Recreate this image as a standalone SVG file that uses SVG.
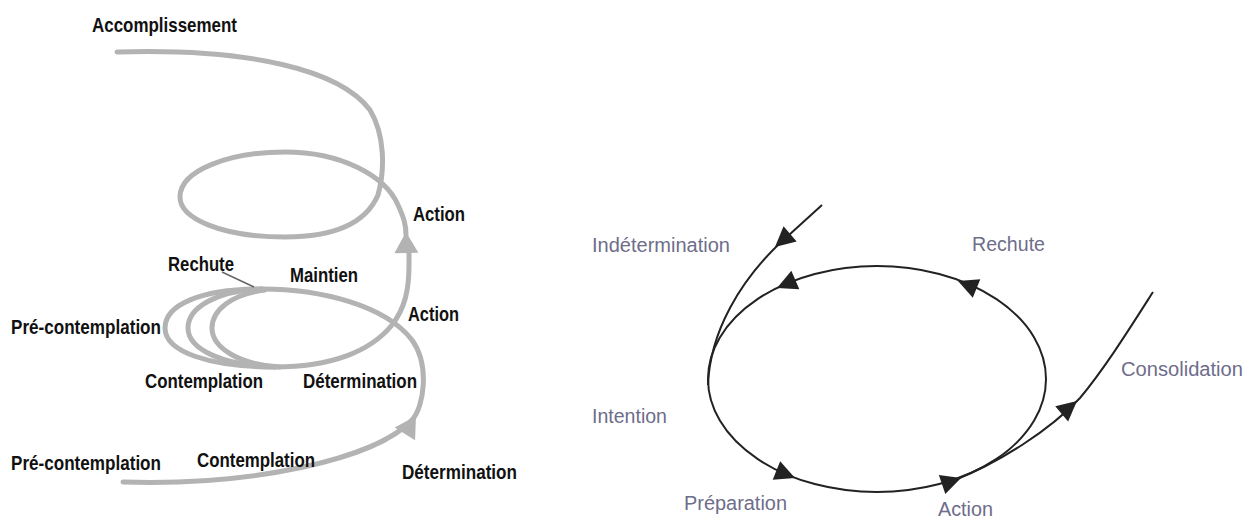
<svg xmlns="http://www.w3.org/2000/svg" xmlns:xlink="http://www.w3.org/1999/xlink" width="1253" height="521" viewBox="0 0 1253 521">
<style>
.g{fill:none;stroke:#b3b3b3;stroke-width:5;stroke-linecap:round;stroke-linejoin:round}
.k{fill:none;stroke:#222;stroke-width:2}
.lb{font-family:"Liberation Sans",Arial,sans-serif;font-weight:bold;font-size:20.5px;fill:#111}
.lr{font-family:"Liberation Sans",Arial,sans-serif;font-size:20px;fill:#6e6d8a}
</style>
<defs>
<polygon id="ga" points="0,0 -21,-12 -21,12" fill="#b3b3b3"/>
<polygon id="ba" points="0,0 -20,-10 -20,10" fill="#222"/>
</defs>
<rect width="1253" height="521" fill="#fff"/>
<g id="connectors">
<path class="g" d="M 123 482 C 250 486 375 460 412 420 C 424 407 430 365 412 340 C 385 305 320 289 262 289"/>
<path class="g" d="M 262 289 C 200 289 165 305 165 328 C 165 352 210 367 275 367"/>
<path class="g" d="M 262 289 C 215 291 188 308 188 328 C 188 350 225 366 275 367"/>
<path class="g" d="M 265 290 C 232 294 212 310 212 328 C 212 348 240 365 280 367"/>
<path class="g" d="M 275 367 C 330 367 370 352 392 325 C 405 308 409 290 409 265 L 409 248"/>
<path class="g" d="M 117 52 C 250 48 340 70 370 110 C 385 135 385 170 378 195 C 365 225 330 237 285 237 C 220 237 180 218 180 197 C 180 170 230 152 285 152 C 340 152 385 175 398 205 C 404 218 406 225 406 235"/>
<use xlink:href="#ga" transform="translate(416,416) rotate(-58)"/>
<use xlink:href="#ga" transform="translate(406,232) rotate(-91)"/>
<line x1="222" y1="272" x2="254" y2="287" stroke="#666" stroke-width="1.5"/>
<ellipse class="k" cx="877" cy="379" rx="169" ry="113"/>
<path class="k" d="M 822 205 L 778 245 C 742 280 710 330 708 385"/>
<path class="k" d="M 955 480 C 1000 462 1050 430 1080 398 C 1105 368 1130 328 1153 292"/>
<use xlink:href="#ba" transform="translate(775,247) rotate(139)"/>
<use xlink:href="#ba" transform="translate(777,288) rotate(156.5)"/>
<use xlink:href="#ba" transform="translate(958,281) rotate(202)"/>
<use xlink:href="#ba" transform="translate(795,478) rotate(22)"/>
<use xlink:href="#ba" transform="translate(961,478) rotate(-19)"/>
<use xlink:href="#ba" transform="translate(1077,401) rotate(-40)"/>
</g>
<g id="left-labels">
<g id="n-accomplissement"><text class="lb" x="92" y="32" textLength="145" lengthAdjust="spacingAndGlyphs">Accomplissement</text></g>
<g id="n-action-top"><text class="lb" x="413" y="221" textLength="52" lengthAdjust="spacingAndGlyphs">Action</text></g>
<g id="n-rechute"><text class="lb" x="168" y="271" textLength="66" lengthAdjust="spacingAndGlyphs">Rechute</text></g>
<g id="n-maintien"><text class="lb" x="290" y="282" textLength="68" lengthAdjust="spacingAndGlyphs">Maintien</text></g>
<g id="n-precontemplation-mid"><text class="lb" x="11" y="334" textLength="150" lengthAdjust="spacingAndGlyphs">Pré-contemplation</text></g>
<g id="n-action-mid"><text class="lb" x="408" y="321" textLength="51" lengthAdjust="spacingAndGlyphs">Action</text></g>
<g id="n-contemplation-mid"><text class="lb" x="145" y="388" textLength="118" lengthAdjust="spacingAndGlyphs">Contemplation</text></g>
<g id="n-determination-mid"><text class="lb" x="303" y="388" textLength="114" lengthAdjust="spacingAndGlyphs">Détermination</text></g>
<g id="n-precontemplation-bot"><text class="lb" x="11" y="470" textLength="150" lengthAdjust="spacingAndGlyphs">Pré-contemplation</text></g>
<g id="n-contemplation-bot"><text class="lb" x="197" y="467" textLength="118" lengthAdjust="spacingAndGlyphs">Contemplation</text></g>
<g id="n-determination-bot"><text class="lb" x="402" y="479" textLength="115" lengthAdjust="spacingAndGlyphs">Détermination</text></g>
</g>
<g id="right-labels">
<g id="n-indetermination"><text class="lr" x="592" y="252" textLength="138" lengthAdjust="spacingAndGlyphs">Indétermination</text></g>
<g id="n-rechute-r"><text class="lr" x="972" y="251" textLength="73" lengthAdjust="spacingAndGlyphs">Rechute</text></g>
<g id="n-consolidation"><text class="lr" x="1121" y="376" textLength="122" lengthAdjust="spacingAndGlyphs">Consolidation</text></g>
<g id="n-intention"><text class="lr" x="592" y="423" textLength="75" lengthAdjust="spacingAndGlyphs">Intention</text></g>
<g id="n-preparation"><text class="lr" x="684" y="510" textLength="103" lengthAdjust="spacingAndGlyphs">Préparation</text></g>
<g id="n-action-r"><text class="lr" x="938" y="516" textLength="55" lengthAdjust="spacingAndGlyphs">Action</text></g>
</g>
</svg>
